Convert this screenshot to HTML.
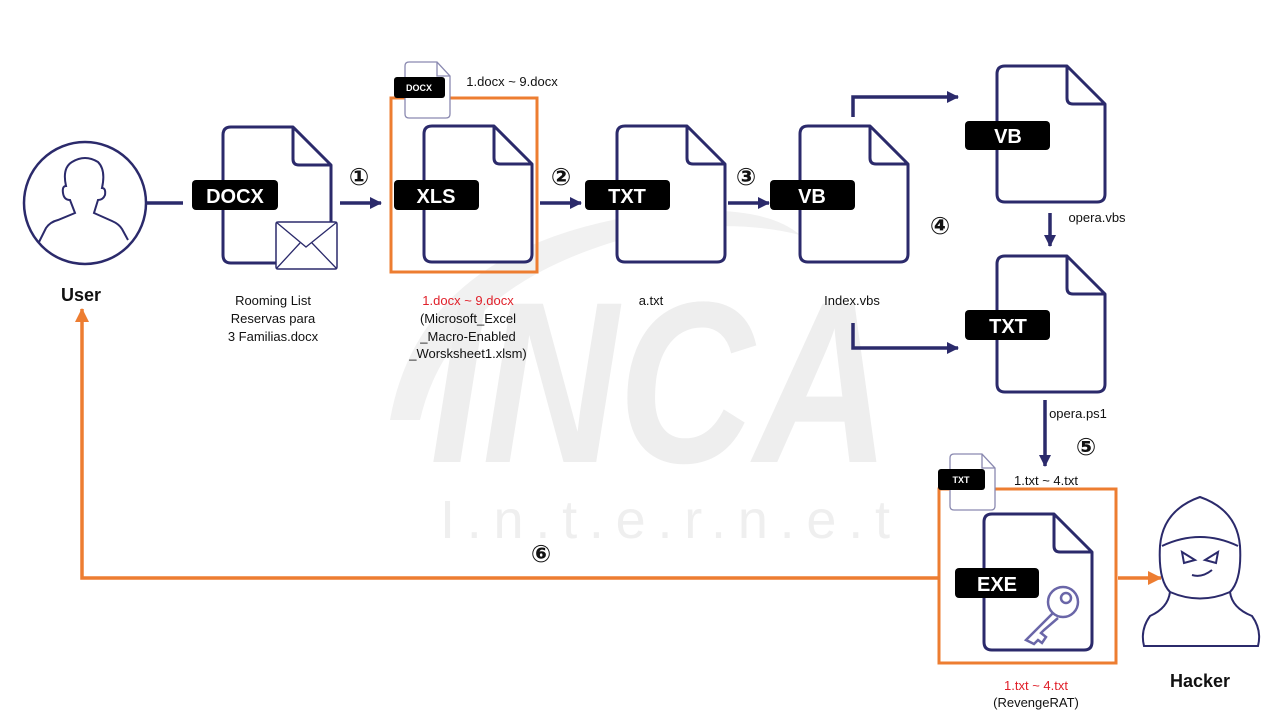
<!DOCTYPE html>
<html><head><meta charset="utf-8"><style>
html,body{margin:0;padding:0;background:#fff;}
svg{display:block;font-family:"Liberation Sans","Noto Sans CJK KR",sans-serif;}
</style></head><body>
<svg width="1280" height="720" viewBox="0 0 1280 720" xmlns="http://www.w3.org/2000/svg">
<defs>
<path id="doc" d="M8,0 H70 L108,38 V128 Q108,136 100,136 H8 Q0,136 0,128 V8 Q0,0 8,0 Z M70,0 V32 Q70,38 76,38 H108" fill="#fff" stroke="#2b2a6b" stroke-width="3" stroke-linejoin="round"/>
<path id="sdoc" d="M4,0 H32 L45,14 V52 Q45,56 41,56 H4 Q0,56 0,52 V4 Q0,0 4,0 Z M32,0 V14 H45" fill="#fff" stroke="#8a89b0" stroke-width="1.3"/>
<marker id="an" markerWidth="12" markerHeight="12" refX="11" refY="6" orient="auto" markerUnits="userSpaceOnUse"><path d="M0,0 L12,6 L0,12 Z" fill="#2b2a6b"/></marker>
<marker id="ao" markerWidth="14" markerHeight="14" refX="13" refY="7" orient="auto" markerUnits="userSpaceOnUse"><path d="M0,0 L14,7 L0,14 Z" fill="#ed7d31"/></marker>
</defs>

<!-- watermark -->
<g fill="#eeeeee">
<path d="M390,420 Q420,250 640,215 Q760,200 800,235 Q720,215 620,240 Q450,290 420,420 Z" fill="#f1f1f1"/>
<text x="430" y="462" font-size="230" font-weight="bold" font-style="italic" textLength="460" lengthAdjust="spacingAndGlyphs">INCA</text>
<text x="440" y="538" font-size="54" fill="#efefef" textLength="450" lengthAdjust="spacing">I.n.t.e.r.n.e.t</text>
</g>

<!-- user -->
<circle cx="85" cy="203" r="61" fill="#fff" stroke="#2b2a6b" stroke-width="2.5"/>
<path d="M39,242 L46,228 Q50,222 58,220 L75,213 L70,200 Q64,200 63,193 Q62,186 66,186 Q62,168 72,162 Q85,154 98,162 Q106,170 102,188 Q106,188 105,195 Q103,200 98,200 L94,213 L112,221 Q119,224 122,229 L128,240" fill="none" stroke="#2b2a6b" stroke-width="2"/>
<text x="81" y="301" font-size="18" font-weight="bold" text-anchor="middle" fill="#111">User</text>

<!-- orange boxes -->
<rect x="391" y="98" width="146" height="174" fill="none" stroke="#ed7d31" stroke-width="3"/>
<rect x="939" y="489" width="177" height="174" fill="none" stroke="#ed7d31" stroke-width="3"/>

<!-- docs -->
<use href="#doc" x="223" y="127"/>
<use href="#doc" x="424" y="126"/>
<use href="#doc" x="617" y="126"/>
<use href="#doc" x="800" y="126"/>
<use href="#doc" x="997" y="66"/>
<use href="#doc" x="997" y="256"/>
<use href="#doc" x="984" y="514"/>
<use href="#sdoc" x="405" y="62"/>
<use href="#sdoc" x="950" y="454"/>

<!-- envelope -->
<rect x="276" y="222" width="61" height="47" fill="#fff" stroke="#2b2a6b" stroke-width="1.5" rx="2"/>
<path d="M276,222 L306,247 L337,222 M276,269 L300,243 M337,269 L312,243" fill="none" stroke="#2b2a6b" stroke-width="1.3"/>

<!-- key -->
<g fill="none" stroke="#6a66a8" stroke-width="2.5">
<circle cx="1063" cy="602" r="15"/>
<circle cx="1066" cy="598" r="5"/>
<path d="M1053,613 L1026,640 L1034,644 L1038,640 L1042,643 L1046,637 L1041,633 L1044,630 L1058,618"/>
</g>

<!-- labels -->
<g font-weight="bold" fill="#fff" text-anchor="middle">
<rect x="192" y="180" width="86" height="30" rx="4" fill="#000"/><text x="235" y="203" font-size="20">DOCX</text>
<rect x="394" y="180" width="85" height="30" rx="4" fill="#000"/><text x="436" y="203" font-size="20">XLS</text>
<rect x="585" y="180" width="85" height="30" rx="4" fill="#000"/><text x="627" y="203" font-size="20">TXT</text>
<rect x="770" y="180" width="85" height="30" rx="4" fill="#000"/><text x="812" y="203" font-size="20">VB</text>
<rect x="965" y="121" width="85" height="29" rx="4" fill="#000"/><text x="1008" y="143" font-size="20">VB</text>
<rect x="965" y="310" width="85" height="30" rx="4" fill="#000"/><text x="1008" y="333" font-size="20">TXT</text>
<rect x="955" y="568" width="84" height="30" rx="4" fill="#000"/><text x="997" y="591" font-size="20">EXE</text>
<rect x="394" y="77" width="51" height="21" rx="3" fill="#000"/><text x="419" y="91" font-size="9">DOCX</text>
<rect x="938" y="469" width="47" height="21" rx="3" fill="#000"/><text x="961" y="483" font-size="9">TXT</text>
</g>

<!-- navy arrows -->
<g stroke="#2b2a6b" stroke-width="3.5" fill="none">
<line x1="147" y1="203" x2="183" y2="203"/>
<line x1="340" y1="203" x2="381" y2="203" marker-end="url(#an)"/>
<line x1="540" y1="203" x2="581" y2="203" marker-end="url(#an)"/>
<line x1="728" y1="203" x2="769" y2="203" marker-end="url(#an)"/>
<polyline points="853,117 853,97 958,97" marker-end="url(#an)"/>
<polyline points="853,323 853,348 958,348" marker-end="url(#an)"/>
<line x1="1050" y1="213" x2="1050" y2="246" marker-end="url(#an)"/>
<line x1="1045" y1="400" x2="1045" y2="466" marker-end="url(#an)"/>
</g>
<!-- orange arrows -->
<g stroke="#ed7d31" stroke-width="3.5" fill="none">
<line x1="1118" y1="578" x2="1161" y2="578" marker-end="url(#ao)"/>
<polyline points="938,578 82,578 82,309" marker-end="url(#ao)"/>
</g>

<!-- hacker -->
<g fill="none" stroke="#2b2a6b" stroke-width="2">
<path d="M1160,546 Q1163,510 1200,497 Q1237,510 1240,546 Q1242,580 1230,592 Q1232,608 1252,616 Q1262,630 1258,646 L1144,646 Q1140,630 1150,616 Q1168,608 1170,592 Q1158,580 1160,546 Z"/>
<path d="M1162,546 Q1200,528 1238,546"/>
<path d="M1170,592 Q1200,605 1230,592"/>
<path d="M1182,552 L1195,560 L1184,563 Z M1218,552 L1205,560 L1216,563 Z" stroke-width="2"/>
<path d="M1192,575 Q1202,578 1212,570"/>
</g>
<text x="1200" y="687" font-size="18" font-weight="bold" text-anchor="middle" fill="#111">Hacker</text>

<!-- circled numbers -->
<g font-size="24" font-weight="bold" text-anchor="middle" fill="#111" font-family="DejaVu Sans, sans-serif">
<text x="359" y="185">①</text><text x="561" y="185">②</text><text x="746" y="185">③</text>
<text x="940" y="234">④</text><text x="1086" y="455">⑤</text><text x="541" y="562">⑥</text>
</g>

<!-- text -->
<g font-size="13" fill="#111" text-anchor="middle">
<text x="273" y="305">Rooming List</text>
<text x="273" y="323">Reservas para</text>
<text x="273" y="341">3 Familias.docx</text>
<text x="468" y="305" fill="#e0202a">1.docx ~ 9.docx</text>
<text x="468" y="323">(Microsoft_Excel</text>
<text x="468" y="341">_Macro-Enabled</text>
<text x="468" y="358">_Worsksheet1.xlsm)</text>
<text x="651" y="305">a.txt</text>
<text x="852" y="305">Index.vbs</text>
<text x="512" y="86">1.docx ~ 9.docx</text>
<text x="1097" y="222">opera.vbs</text>
<text x="1078" y="418">opera.ps1</text>
<text x="1046" y="485">1.txt ~ 4.txt</text>
<text x="1036" y="690" fill="#e0202a">1.txt ~ 4.txt</text>
<text x="1036" y="707">(RevengeRAT)</text>
</g>
</svg>
</body></html>
